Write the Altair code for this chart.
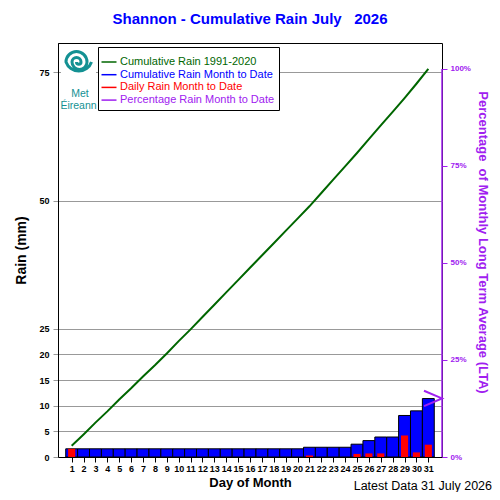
import altair as alt
import pandas as pd

# ---------------- data ----------------
days = list(range(1, 32))
daily_rain = [1.6, 0, 0, 0, 0, 0, 0, 0, 0, 0,
              0, 0, 0, 0, 0, 0, 0, 0, 0, 0,
              0.3, 0, 0, 0, 0.6, 0.7, 0.7, 0, 4.2, 0.9, 2.4]
cum_rain = [1.6, 1.6, 1.6, 1.6, 1.6, 1.6, 1.6, 1.6, 1.6, 1.6,
            1.6, 1.6, 1.6, 1.6, 1.6, 1.6, 1.6, 1.6, 1.6, 1.6,
            1.9, 1.9, 1.9, 1.9, 2.5, 3.2, 3.9, 3.9, 8.1, 9.0, 11.4]
lta_cum = [2.2, 4.4, 6.7, 8.9, 11.2, 13.4, 15.7, 17.9, 20.2, 22.6,
           24.9, 27.3, 29.7, 32.1, 34.5, 36.9, 39.3, 41.7, 44.1, 46.5,
           48.9, 51.5, 54.1, 56.7, 59.3, 62.0, 64.7, 67.3, 70.0, 72.8, 75.7]
series_names = ["Cumulative Rain 1991-2020", "Cumulative Rain Month to Date",
                "Daily Rain Month to Date", "Percentage Rain Month to Date"]
series_colors = ["#006600", "#0000ff", "#ff0000", "#a020f0"]
y_ticks = [0, 5, 10, 15, 20, 25, 50, 75]
pct_ticks = [0, 25, 50, 75, 100]

LTA_TOTAL = lta_cum[-1]
Y_TOP = 80.75
pct_now = round(cum_rain[-1] / LTA_TOTAL * 100, 1)

W, H = 384, 414
FONT = "Liberation Sans"
PURPLE = "#a020f0"
TEAL = "#139193"

df = pd.DataFrame({"day": days, "daily": daily_rain, "cum": cum_rain, "lta": lta_cum})

xs = alt.Scale(domain=[-0.15, 32.15], nice=False, zero=False)
ys = alt.Scale(domain=[0, Y_TOP], nice=False)

x_axis = alt.Axis(values=days, title="Day of Month", grid=False,
                  labelFont=FONT, labelFontWeight="bold", labelFontSize=9,
                  labelColor="black", tickColor="black", domainColor="black",
                  tickSize=5, labelPadding=2, labelOverlap=False, labelFlush=False,
                  titleFont=FONT, titleFontSize=13, titleFontWeight="bold",
                  titleColor="black", titlePadding=3)
y_axis = alt.Axis(values=y_ticks, title="Rain (mm)", grid=True,
                  gridColor="#999999", gridWidth=1, tickColor="#999999", tickSize=5,
                  domainColor="black", labelFont=FONT, labelFontSize=9,
                  labelFontWeight="bold", labelColor="black", labelPadding=4,
                  titleFont=FONT, titleFontSize=14, titleFontWeight="bold",
                  titleColor="black", titlePadding=10)

base = alt.Chart(df)

blue = base.transform_calculate(
    x0="datum.day - 0.5", x1="datum.day + 0.5"
).mark_bar(color="#0000ff", stroke="black", strokeWidth=1).encode(
    x=alt.X("x0:Q", scale=xs, axis=x_axis), x2="x1:Q",
    y=alt.Y("cum:Q", scale=ys, axis=y_axis), y2=alt.datum(0),
)

red = base.transform_filter("datum.daily > 0").transform_calculate(
    x0="datum.day - 0.3", x1="datum.day + 0.3"
).mark_bar(color="#ff0000").encode(
    x=alt.X("x0:Q", scale=xs, axis=x_axis), x2="x1:Q",
    y=alt.Y("daily:Q", scale=ys, axis=None), y2=alt.datum(0),
)

legend = alt.Legend(orient="none", legendX=40, legendY=4, title=" ",
                    titleFontSize=4, titlePadding=0,
                    symbolType="M-1.25,0H1.25", symbolStrokeWidth=1.5, symbolSize=144,
                    labelFont=FONT, labelFontSize=11, labelOffset=4,
                    labelColor=alt.ExprRef(expr="scale('color', datum.value)"),
                    fillColor="white", strokeColor="black", padding=4, rowPadding=0.7)

line = base.transform_calculate(series="'Cumulative Rain 1991-2020'").mark_line(
    strokeWidth=2
).encode(
    x=alt.X("day:Q", scale=xs, axis=x_axis),
    y=alt.Y("lta:Q", scale=ys, axis=None),
    color=alt.Color("series:N", scale=alt.Scale(domain=series_names, range=series_colors),
                    legend=legend),
)

rule = alt.Chart(pd.DataFrame({"lo": [0.0], "hi": [LTA_TOTAL]})).mark_rule(
    color=PURPLE, strokeWidth=1.5
).encode(x=alt.value(W), y=alt.Y("lo:Q", scale=ys, axis=None), y2="hi:Q")

one = pd.DataFrame({"a": [0]})
logo_bg = alt.Chart(one).mark_rect(color="white").encode(
    x=alt.value(3), x2=alt.value(38), y=alt.value(3), y2=alt.value(70))
SPIRAL = ("M0.9,0 A0.9,0.9 0 0,1 -0.8,0 A0.7,0.7 0 0,1 0.6,0 "
          "A0.5,0.5 0 0,1 -0.4,0 A0.3,0.3 0 0,1 0.2,0 A0.15,0.15 0 0,1 -0.1,0")
spiral = alt.Chart(one).mark_point(shape=SPIRAL, filled=False, color=TEAL,
                                   strokeWidth=3, size=900, opacity=1).encode(
    x=alt.value(20), y=alt.value(19))
met = alt.Chart(pd.DataFrame({"t": ["Met"]})).mark_text(
    font=FONT, fontSize=10.5, color=TEAL, align="center", baseline="middle"
).encode(text="t:N", x=alt.value(22), y=alt.value(51))
eir = alt.Chart(pd.DataFrame({"t": ["Éireann"]})).mark_text(
    font=FONT, fontSize=10.5, color=TEAL, align="center", baseline="middle"
).encode(text="t:N", x=alt.value(20.5), y=alt.value(63))
footer = alt.Chart(pd.DataFrame({"t": ["Latest Data 31 July 2026"]})).mark_text(
    font=FONT, fontSize=12.5, color="black", align="right", baseline="alphabetic"
).encode(text="t:N", x=alt.value(434), y=alt.value(447))

ARROW = "M-1,-0.85 L1,0 L-1,0.85"
arrow = alt.Chart(pd.DataFrame({"pct": [pct_now]})).mark_point(
    shape=ARROW, filled=False, color=PURPLE, strokeWidth=2, size=324, opacity=1
).encode(
    x=alt.value(W - 9),
    y=alt.Y("pct:Q",
            scale=alt.Scale(domain=[0, Y_TOP / LTA_TOTAL * 100], nice=False),
            axis=alt.Axis(orient="right", values=pct_ticks, labelExpr="datum.value + '%'",
                          grid=False, domain=False, tickColor=PURPLE, tickSize=5,
                          labelColor=PURPLE, labelFont=FONT, labelFontSize=8,
                          labelFontWeight="bold", labelPadding=3,
                          title="Percentage \u00a0of Monthly Long Term Average (LTA)",
                          titleColor=PURPLE, titleFont=FONT, titleFontSize=13,
                          titleFontWeight="bold", titlePadding=5, titleY=199)),
)

chart = alt.layer(logo_bg, spiral, met, eir, blue, red, line, rule, footer, arrow
).resolve_scale(y="independent").properties(
    width=W, height=H,
    title=alt.TitleParams("Shannon - Cumulative Rain July \u00a0 2026", font=FONT,
                          fontSize=15, fontWeight="bold", color="#0000ff",
                          anchor="middle", offset=16),
    padding={"left": 50, "top": 35, "right": 50, "bottom": 35},
    autosize=alt.AutoSizeParams(type="none"),
).configure_view(stroke="black", strokeWidth=1)

chart.save("out.html", embed_options={"renderer": "svg", "actions": False})
